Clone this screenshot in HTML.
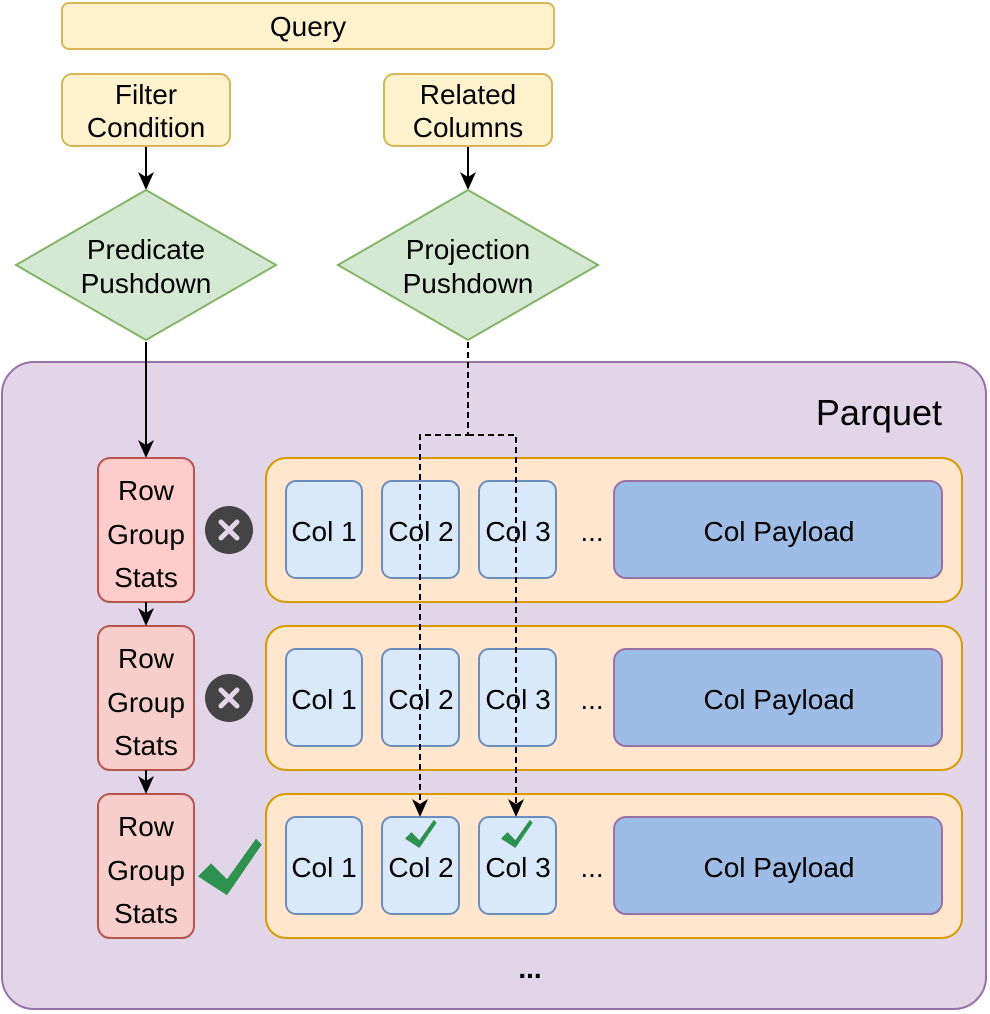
<!DOCTYPE html>
<html><head><meta charset="utf-8"><style>
html,body{margin:0;padding:0;background:#fff;width:990px;height:1014px;overflow:hidden}
text{font-family:"Liberation Sans",Arial,sans-serif;font-size:28px;fill:#000}
</style></head><body>
<svg width="990" height="1014" viewBox="0 0 990 1014" xmlns="http://www.w3.org/2000/svg">
<defs>
<marker id="ar" markerWidth="18" markerHeight="18" refX="16" refY="8" orient="auto" markerUnits="userSpaceOnUse">
<path d="M0,0 L18,8 L0,16 L5,8 Z" fill="#000"/></marker>
<g id="chk"><path d="M0,12 L9,3 L20,14 L40,-14 L44,-10 L20,25 Z" fill="#2d9150"/></g>
</defs>
<rect x="62" y="3" width="492" height="46" rx="7" fill="#fff2cc" stroke="#d6b656" stroke-width="2"/>
<text x="308" y="36" text-anchor="middle">Query</text>
<rect x="62" y="74" width="168" height="72" rx="10" fill="#fff2cc" stroke="#d6b656" stroke-width="2"/>
<text x="146" y="104" text-anchor="middle">Filter</text><text x="146" y="137" text-anchor="middle">Condition</text>
<rect x="384" y="74" width="168" height="72" rx="10" fill="#fff2cc" stroke="#d6b656" stroke-width="2"/>
<text x="468" y="104" text-anchor="middle">Related</text><text x="468" y="137" text-anchor="middle">Columns</text>
<line x1="146" y1="147" x2="146" y2="188" stroke="#000" stroke-width="2" marker-end="url(#ar)"/>
<line x1="468" y1="147" x2="468" y2="188" stroke="#000" stroke-width="2" marker-end="url(#ar)"/>
<path d="M146,190 L276,265 L146,340 L16,265 Z" fill="#d5e8d4" stroke="#82b366" stroke-width="2"/>
<text x="146" y="259" text-anchor="middle">Predicate</text><text x="146" y="293" text-anchor="middle">Pushdown</text>
<path d="M468,190 L598,265 L468,340 L338,265 Z" fill="#d5e8d4" stroke="#82b366" stroke-width="2"/>
<text x="468" y="259" text-anchor="middle">Projection</text><text x="468" y="293" text-anchor="middle">Pushdown</text>
<rect x="2" y="362" width="984" height="647" rx="32" fill="#e1d5e7" stroke="#9673a6" stroke-width="2"/>
<text x="942" y="425" text-anchor="end" style="font-size:36px">Parquet</text>
<line x1="146" y1="342" x2="146" y2="456" stroke="#000" stroke-width="2" marker-end="url(#ar)"/>
<rect x="98" y="458" width="96" height="144" rx="12" fill="#ffcccc" stroke="#b85450" stroke-width="2"/>
<rect x="98" y="626" width="96" height="144" rx="12" fill="#f8cecc" stroke="#b85450" stroke-width="2"/>
<rect x="98" y="794" width="96" height="144" rx="12" fill="#f8cecc" stroke="#b85450" stroke-width="2"/>
<g text-anchor="middle">
<text x="146" y="500">Row</text><text x="146" y="544">Group</text><text x="146" y="587">Stats</text>
<text x="146" y="668">Row</text><text x="146" y="712">Group</text><text x="146" y="755">Stats</text>
<text x="146" y="836">Row</text><text x="146" y="880">Group</text><text x="146" y="923">Stats</text>
</g>
<line x1="146" y1="602" x2="146" y2="624" stroke="#000" stroke-width="2" marker-end="url(#ar)"/>
<line x1="146" y1="770" x2="146" y2="792" stroke="#000" stroke-width="2" marker-end="url(#ar)"/>
<circle cx="229" cy="530" r="24" fill="#444"/>
<path d="M221,522 L237,538 M237,522 L221,538" stroke="#e1d5e7" stroke-width="5" stroke-linecap="round"/>
<circle cx="229" cy="698" r="24" fill="#444"/>
<path d="M221,690 L237,706 M237,690 L221,706" stroke="#e1d5e7" stroke-width="5" stroke-linecap="round"/>
<g transform="translate(198,859) scale(1.45)"><use href="#chk"/></g>
<g fill="#ffe6cc" stroke="#d79b00" stroke-width="2">
<rect x="266" y="458" width="696" height="144" rx="20"/>
<rect x="266" y="626" width="696" height="144" rx="20"/>
<rect x="266" y="794" width="696" height="144" rx="20"/>
</g>
<g fill="#dae8fc" stroke="#6c8ebf" stroke-width="2">
<rect x="286" y="481" width="76" height="97" rx="10"/><rect x="382" y="481" width="77" height="97" rx="10"/><rect x="479" y="481" width="77" height="97" rx="10"/>
<rect x="286" y="649" width="76" height="97" rx="10"/><rect x="382" y="649" width="77" height="97" rx="10"/><rect x="479" y="649" width="77" height="97" rx="10"/>
<rect x="286" y="817" width="76" height="97" rx="10"/><rect x="382" y="817" width="77" height="97" rx="10"/><rect x="479" y="817" width="77" height="97" rx="10"/>
</g>
<g fill="#9dbce6" stroke="#9673a6" stroke-width="2">
<rect x="614" y="481" width="328" height="97" rx="12"/>
<rect x="614" y="649" width="328" height="97" rx="12"/>
<rect x="614" y="817" width="328" height="97" rx="12"/>
</g>
<g text-anchor="middle">
<text x="324" y="541">Col 1</text><text x="421" y="541">Col 2</text><text x="518" y="541">Col 3</text><text x="592" y="541">...</text><text x="779" y="541">Col Payload</text>
<text x="324" y="709">Col 1</text><text x="421" y="709">Col 2</text><text x="518" y="709">Col 3</text><text x="592" y="709">...</text><text x="779" y="709">Col Payload</text>
<text x="324" y="877">Col 1</text><text x="421" y="877">Col 2</text><text x="518" y="877">Col 3</text><text x="592" y="877">...</text><text x="779" y="877">Col Payload</text>
<text x="530" y="978" style="font-weight:bold">...</text>
</g>
<g transform="translate(405,830) scale(0.72)"><use href="#chk"/></g>
<g transform="translate(501,830) scale(0.72)"><use href="#chk"/></g>
<g fill="none" stroke="#000" stroke-width="2" stroke-dasharray="6,4">
<path d="M468,342 L468,435 L420,435 L420,815" marker-end="url(#ar)"/>
<path d="M468,435 L516,435 L516,815" marker-end="url(#ar)"/>
</g>
</svg>
</body></html>
